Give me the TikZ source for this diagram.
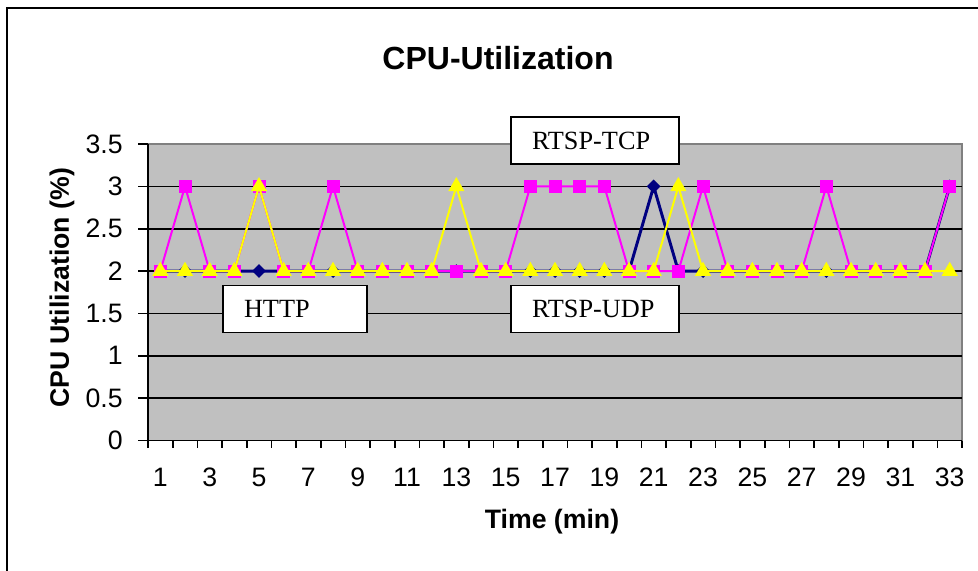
\documentclass[tikz,border=0pt]{standalone}
\usepackage{fontspec}
\setmainfont{Liberation Serif}
\newfontfamily\arialfont{Liberation Sans}
\usetikzlibrary{shapes.geometric}
\definecolor{plotgray}{HTML}{C0C0C0}
\definecolor{edgegray}{HTML}{808080}
\definecolor{navy}{HTML}{000080}
\definecolor{pinkline}{HTML}{FF00FF}
\definecolor{yellowline}{HTML}{FFFF00}
% CPU load per minute
\def\httpdata{2,2,2,2,2,2,2,2,2,2,2,2,2,2,2,2,2,2,2,2,3,2,2,2,2,2,2,2,2,2,2,2,3}
\def\tcpdata{2,3,2,2,3,2,2,3,2,2,2,2,2,2,2,3,3,3,3,2,2,2,3,2,2,2,2,3,2,2,2,2,3}
\def\udpdata{2,2,2,2,3,2,2,2,2,2,2,2,3,2,2,2,2,2,2,2,2,3,2,2,2,2,2,2,2,2,2,2,2}
\begin{document}
\begin{tikzpicture}[x=0.75pt, y=-0.75pt, font=\arialfont\fontsize{20}{24}\selectfont,
	diadot/.style={diamond, fill=navy, inner sep=0pt, minimum size=10.5pt},
	sqdot/.style={rectangle, fill=pinkline, inner sep=0pt, minimum size=9.75pt},
	tridot/.style={regular polygon, regular polygon sides=3, fill=yellowline, inner sep=0pt, minimum size=14pt},
	legbox/.style={draw, fill=white, line width=1.2pt, align=left, inner xsep=15.75pt, inner ysep=0pt, minimum height=35.5pt, font=\rmfamily\fontsize{19.7}{22}\selectfont}]
	\useasboundingbox (0,0) rectangle (978,571);
	\draw[line width=1.5pt] (7,571)--(7,8)--(978,8);
	\node (title) at (498,58) {\fontsize{24}{28}\selectfont\bfseries CPU-Utilization};
	% plot area
	\fill[plotgray] (148,144) rectangle (962,440.5);
	\draw[edgegray, line width=1.5pt] (148,144)--(962,144)--(962,440.5);
	\foreach \v in {0.5,1,1.5,2,2.5,3} \draw[line width=1.25pt] (148,{440.5-84.7*\v})--(962,{440.5-84.7*\v});
	\draw[line width=1.25pt] (148,144)--(148,440.5)--(962,440.5);
	\foreach \v in {0,0.5,1,1.5,2,2.5,3,3.5} \draw[line width=1.25pt] (138,{440.5-84.7*\v})--(148,{440.5-84.7*\v}) node[anchor=east] (yl\v) at (128,{440.5-84.7*\v}) {\v};
	\foreach \i in {0,...,33} \draw[line width=1.25pt] ({148+24.667*\i},440.5)--++(0,7.5);
	\foreach \i in {1,3,...,33} \node (xl\i) at ({135.667+24.667*\i},477) {\i};
	\node (xtitle) at (552,522) {\bfseries Time (min)};
	\node[rotate=90] (ytitle) at (62,288) {\bfseries CPU Utilization (\%)};
	% series
	\draw[navy, line width=2.2pt] (160.33,271.1) \foreach \v [count=\i] in \httpdata {--({135.667+24.667*\i},{440.5-84.7*\v})};
	\foreach \v [count=\i] in \httpdata \node[diadot] (h\i) at ({135.667+24.667*\i},{440.5-84.7*\v}) {};
	\draw[pinkline, line width=1.5pt] (160.33,271.1) \foreach \v [count=\i] in \tcpdata {--({135.667+24.667*\i},{440.5-84.7*\v})};
	\foreach \v [count=\i] in \tcpdata \node[sqdot] (t\i) at ({135.667+24.667*\i},{440.5-84.7*\v}) {};
	\draw[yellowline, line width=1.5pt] (160.33,271.1) \foreach \v [count=\i] in \udpdata {--({135.667+24.667*\i},{440.5-84.7*\v})};
	\foreach \v [count=\i] in \udpdata \node[tridot] (u\i) at ({135.667+24.667*\i},{440.5-84.7*\v}) {};
	% labels
	\node[legbox, text width=94.5pt] (tcp) at (595,140.5) {RTSP-TCP};
	\node[legbox, text width=76.5pt] (http) at (295,309) {HTTP};
	\node[legbox, text width=94.5pt] (udp) at (595,309) {RTSP-UDP};
\end{tikzpicture}
\end{document}
